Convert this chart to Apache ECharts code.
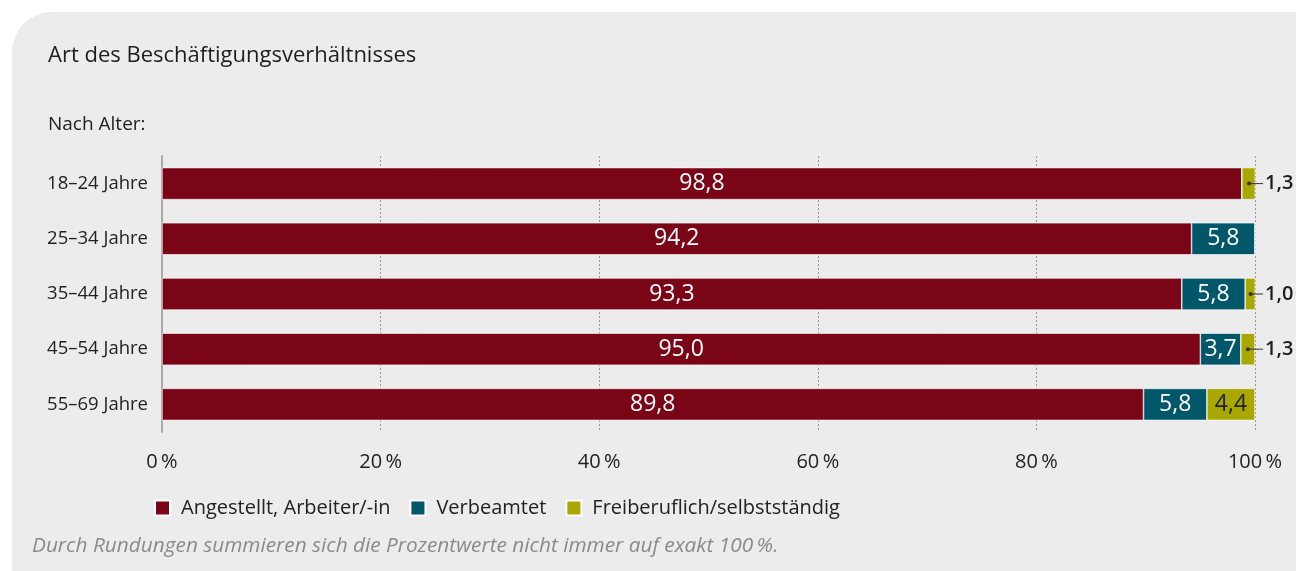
<!DOCTYPE html>
<html>
<head>
<meta charset="utf-8">
<script src="https://cdn.jsdelivr.net/npm/echarts@6/dist/echarts.min.js"></script>
<style>html,body{margin:0;padding:0;background:#fff}#c{width:1296px;height:571px}</style>
</head>
<body>
<div id="c"></div>
<script>
var categories = ['18–24 Jahre', '25–34 Jahre', '35–44 Jahre', '45–54 Jahre', '55–69 Jahre'];
var angestellt = [98.8, 94.2, 93.3, 95.0, 89.8];
var verbeamtet = [0, 5.8, 5.8, 3.7, 5.8];
var freiberuflich = [1.3, 0, 1.0, 1.3, 4.4];
var seriesNames = ['Angestellt, Arbeiter/-in', 'Verbeamtet', 'Freiberuflich/selbstständig'];
var xTicks = [0, 20, 40, 60, 80, 100];

var FONT = '"Open Sans", sans-serif';
var colors = ['#7a0516', '#005769', '#a9a800'];

function fmt(v) { return v.toFixed(1).replace('.', ','); }

// small outside labels (freiberuflich segment too narrow)
var smallData = [];
freiberuflich.forEach(function (v, i) {
  if (v > 0 && v < 2) {
    smallData.push([angestellt[i] + verbeamtet[i], v, i]);
  }
});

var chart = echarts.init(document.getElementById('c'));
chart.setOption({
  animation: false,
  textStyle: { fontFamily: FONT },
  graphic: [
    { type: 'rect', z: -10, shape: { x: 12, y: 12, width: 1300, height: 600, r: [40, 0, 0, 0] }, style: { fill: '#ececec' } },
    { type: 'text', left: 48, top: 115, style: { text: 'Nach Alter:', fontFamily: FONT, fontSize: 19, fill: '#222' } },
    { type: 'text', left: 32, top: 536, style: { text: 'Durch Rundungen summieren sich die Prozentwerte nicht immer auf exakt 100\u2009%.', fontFamily: FONT, fontSize: 20.8, fontStyle: 'italic', fill: '#8a8a8a' } }
  ],
  title: {
    text: 'Art des Beschäftigungsverhältnisses',
    left: 48, top: 45, padding: 0,
    textStyle: { fontFamily: FONT, fontSize: 22, fontWeight: 500, color: '#1e1e1e' }
  },
  legend: {
    left: 149, top: 493,
    itemWidth: 15, itemHeight: 15, itemGap: 19,
    icon: 'rect',
    textStyle: { fontFamily: FONT, fontSize: 20, color: '#222', padding: [0, 0, 0, 6] },
    data: seriesNames
  },
  grid: { left: 162, right: 41, top: 156, height: 276 },
  xAxis: {
    type: 'value', min: 0, max: 100, interval: 20,
    axisLine: { show: false },
    axisTick: { show: false },
    axisLabel: { formatter: '{value}\u2009%', fontFamily: FONT, fontSize: 20, color: '#222', margin: 20 },
    splitLine: { lineStyle: { type: [2, 2], color: '#999', width: 1 } }
  },
  yAxis: {
    type: 'category', data: categories, inverse: true,
    axisLine: { show: true, lineStyle: { color: '#aaa', width: 2 } },
    axisTick: { show: false },
    axisLabel: { fontFamily: FONT, fontSize: 18.5, color: '#222', margin: 14 }
  },
  series: [
    {
      name: seriesNames[0], type: 'bar', stack: 's', data: angestellt, barWidth: 32,
      itemStyle: { color: colors[0], borderColor: '#fff', borderWidth: 0.6 },
      label: { show: true, position: 'inside', color: '#fff', fontFamily: FONT, fontSize: 23, formatter: function (p) { return fmt(p.value); } }
    },
    {
      name: seriesNames[1], type: 'bar', stack: 's', data: verbeamtet, barWidth: 32,
      itemStyle: { color: colors[1], borderColor: '#fff', borderWidth: 0.6 },
      label: { show: true, position: 'inside', color: '#fff', fontFamily: FONT, fontSize: 23, formatter: function (p) { return p.value >= 2 ? fmt(p.value) : ''; } }
    },
    {
      name: seriesNames[2], type: 'bar', stack: 's', data: freiberuflich, barWidth: 32,
      itemStyle: { color: colors[2], borderColor: '#fff', borderWidth: 0.6 },
      label: { show: true, position: 'inside', color: '#222', fontFamily: FONT, fontSize: 23, formatter: function (p) { return p.value >= 2 ? fmt(p.value) : ''; } }
    },
    {
      type: 'custom', z: 5,
      data: smallData,
      encode: { x: [0, 1], y: 2 },
      renderItem: function (params, api) {
        var start = api.value(0), v = api.value(1), idx = api.value(2);
        var c = api.coord([start + v / 2, idx]);
        var endX = api.coord([100, idx])[0] + 8;
        return {
          type: 'group',
          children: [
            { type: 'line', shape: { x1: c[0], y1: c[1], x2: endX, y2: c[1] }, style: { stroke: '#333', lineWidth: 1 } },
            { type: 'circle', shape: { cx: c[0], cy: c[1], r: 2 }, style: { fill: '#333' } },
            { type: 'text', x: endX + 2, y: c[1], style: { text: fmt(v), fontFamily: FONT, fontSize: 20, fontWeight: 600, fill: '#1e1e1e', verticalAlign: 'middle', align: 'left' } }
          ]
        };
      }
    }
  ]
});
</script>
</body>
</html>
